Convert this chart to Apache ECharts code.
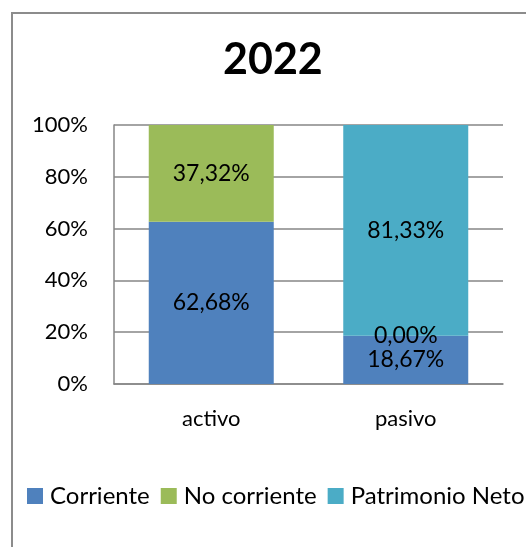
<!DOCTYPE html>
<html>
<head>
<meta charset="utf-8">
<script src="https://cdn.jsdelivr.net/npm/echarts@6/dist/echarts.min.js"></script>
<style>
  html, body { margin: 0; padding: 0; background: #fff; overflow: hidden; }
  #chart { width: 526px; height: 547px; }
</style>
</head>
<body>
<div id="chart"></div>
<script>
// datos del gráfico
var categorias = ['activo', 'pasivo'];
var corriente = [62.68, 18.67];
var noCorriente = [37.32, 0.00];
var patrimonioNeto = [null, 81.33];
var ticksY = [0, 20, 40, 60, 80, 100];

var fuente = 'Lato';

function fmtPct(p) {
    if (p.value === null || p.value === undefined) return '';
    return p.value.toFixed(2).replace('.', ',') + '%';
}

function serie(nombre, datos, color) {
    return {
        name: nombre,
        type: 'bar',
        stack: 'total',
        barWidth: 125,
        data: datos,
        itemStyle: { color: color },
        label: {
            show: true,
            position: 'inside',
            formatter: fmtPct,
            color: '#000',
            fontFamily: fuente,
            fontSize: 23
        }
    };
}

var chart = echarts.init(document.getElementById('chart'));
var option = {
    animation: false,
    backgroundColor: '#fff',
    title: {
        text: '2022',
        left: 223,
        top: 39,
        padding: 0,
        textStyle: { fontFamily: fuente, fontSize: 43, fontWeight: 'bold', color: '#000' }
    },
    legend: {
        left: 27,
        top: 484,
        width: 1000,
        padding: 0,
        itemWidth: 16,
        itemHeight: 16,
        itemGap: 11,
        icon: 'rect',
        textStyle: { fontFamily: fuente, fontSize: 24, color: '#000', padding: [0, 0, 0, 2] },
        data: ['Corriente', 'No corriente', 'Patrimonio Neto']
    },
    grid: { left: 114, top: 125, right: 23, bottom: 163 },
    xAxis: {
        type: 'category',
        data: categorias,
        axisLine: { lineStyle: { color: '#868686', width: 1.5 } },
        axisTick: { show: false },
        axisLabel: { fontFamily: fuente, fontSize: 22, color: '#000', margin: 24 }
    },
    yAxis: {
        type: 'value',
        min: ticksY[0],
        max: ticksY[ticksY.length - 1],
        interval: 20,
        axisLine: { show: true, lineStyle: { color: '#868686', width: 1.5 } },
        axisTick: { show: false },
        splitLine: { lineStyle: { color: '#868686', width: 1.5 } },
        axisLabel: { fontFamily: fuente, fontSize: 22, color: '#000', margin: 26, formatter: '{value}%' }
    },
    graphic: [
        {
            type: 'polyline',
            shape: { points: [[12, 547], [12, 13], [526, 13]] },
            style: { fill: null, stroke: '#8c8c8c', lineWidth: 2 },
            silent: true
        }
    ],
    series: [
        serie('Corriente', corriente, '#4F81BD'),
        serie('No corriente', noCorriente, '#9BBB59'),
        serie('Patrimonio Neto', patrimonioNeto, '#4BACC6')
    ]
};
chart.setOption(option);
</script>
</body>
</html>
